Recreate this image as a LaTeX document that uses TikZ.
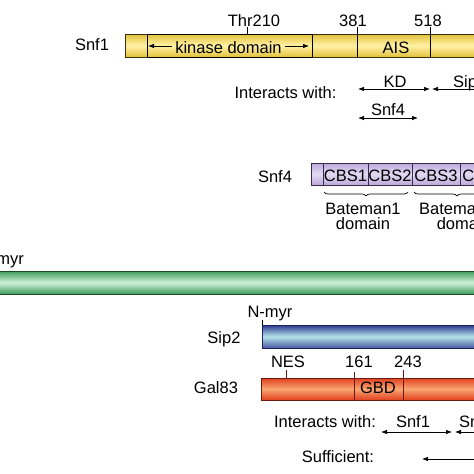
\documentclass[tikz,border=0pt]{standalone}
\usepackage{fontspec}
\setmainfont{Liberation Sans}
\usetikzlibrary{arrows.meta,decorations.pathreplacing}
\definecolor{ydark}{HTML}{E2C23A}
\definecolor{ylight}{HTML}{FFF2A6}
\definecolor{yline}{HTML}{3A3010}
\definecolor{pdark}{HTML}{BCA8DA}
\definecolor{plight}{HTML}{E2DAF2}
\definecolor{pline}{HTML}{3A2A50}
\definecolor{gdark}{HTML}{3C9C5C}
\definecolor{glight}{HTML}{D2F2D8}
\definecolor{gline}{HTML}{1E4A2C}
\definecolor{bdark}{HTML}{2E3890}
\definecolor{blight}{HTML}{B4E4EA}
\definecolor{bline}{HTML}{1C2060}
\definecolor{rdark}{HTML}{E2401E}
\definecolor{rlight}{HTML}{F8A672}
\definecolor{rline}{HTML}{6A1A0E}
\tikzset{
  lbl/.style={font=\fontsize{16.5}{18}\selectfont, inner sep=0pt, anchor=base},
  divline/.style={line width=0.7pt},
  dbl/.style={line width=0.7pt, {Latex[length=6pt,width=4.5pt]}-{Latex[length=6pt,width=4.5pt]}},
  lft/.style={line width=0.7pt, {Latex[length=6pt,width=4.5pt]}-},
  rgt/.style={line width=0.7pt, -{Latex[length=6pt,width=4.5pt]}},
  ybar/.style={draw=yline, line width=0.8pt, top color=ydark, bottom color=ydark, middle color=ylight},
  pbar/.style={draw=pline, line width=0.8pt, top color=pdark, bottom color=pdark, middle color=plight},
  gbar/.style={draw=gline, line width=1pt, top color=gdark, bottom color=gdark, middle color=glight},
  bbar/.style={draw=bline, line width=1pt, top color=bdark, bottom color=bdark!80!blight, middle color=blight},
  rbar/.style={draw=rline, line width=0.8pt, top color=rdark, bottom color=rdark, middle color=rlight},
  bracestyle/.style={decorate, decoration={brace, mirror, amplitude=4pt}, line width=0.7pt},
}
\begin{document}
\begin{tikzpicture}[x=1pt,y=-1pt]
\useasboundingbox (0,0) rectangle (474,474);
\fill[white] (0,0) rectangle (474,474);
\begin{scope}
\clip (0,0) rectangle (474,474);
% ---------- Snf1 ----------
\node[lbl] (snf1) at (92,50) {Snf1};
\fill[ybar] (125,34) rectangle (490,57);
\draw[line width=1pt] (147,34) rectangle (312,57);
\node[lbl] (kd) at (228.5,53) {kinase domain};
\coordinate (kdl) at (148,46);
\coordinate (kdr) at (309,46);
\draw[lft] (kdl) -- ([xshift=-3pt]kd.west |- kdl);
\draw[rgt] ([xshift=3pt]kd.east |- kdr) -- (kdr);
\draw[divline] (357,27) -- (357,57);
\draw[divline] (430,27) -- (430,57);
\draw[divline] (247,27) -- (247,34);
\node[lbl] (thr) at (254,26) {Thr210};
\node[lbl] (n381) at (353,26) {381};
\node[lbl] (n518) at (428,26) {518};
\node[lbl] (ais) at (396,53) {AIS};
\node[lbl] (iw1) at (285.5,98) {Interacts with:};
\coordinate (a1) at (358,89);
\coordinate (a2) at (430,89);
\coordinate (a3) at (432,89);
\coordinate (a4) at (520,89);
\draw[dbl] (a1) -- (a2);
\draw[lft] (a3) -- (a4);
\node[lbl] (kdlab) at (395,87) {KD};
\node[lbl, anchor=base west] (sip) at (453,87) {Sip2};
\coordinate (b1) at (358,118);
\coordinate (b2) at (418,118);
\draw[dbl] (b1) -- (b2);
\node[lbl] (snf4lab) at (388,115) {Snf4};
% ---------- Snf4 ----------
\node[lbl] (snf4) at (275,182) {Snf4};
\fill[pbar] (311,163) rectangle (490,185);
\foreach \x in {323,368,412,460} \draw[divline, pline] (\x,163) -- (\x,185);
\node[lbl] (cbs1) at (345.5,181) {CBS1};
\node[lbl] (cbs2) at (390,181) {CBS2};
\node[lbl] (cbs3) at (436,181) {CBS3};
\node[lbl] (cbs4) at (484,181) {CBS4};
\coordinate (br1) at (324,192);
\coordinate (br2) at (408,192);
\coordinate (br3) at (414,192);
\coordinate (br4) at (500,192);
\draw[bracestyle] (br1) -- (br2);
\draw[bracestyle] (br3) -- (br4);
\node[lbl, align=center, anchor=north] (bat1) at (363,203) {Bateman1\\[-3pt]domain};
\node[lbl, align=center, anchor=north west] (bat2) at (419,203) {Bateman2\\[-3pt]\hspace*{14pt}domain};
% ---------- green ----------
\fill[gbar] (-20,271) rectangle (494,294);
\node[lbl, anchor=base east] (gmyr) at (24,264) {N-myr};
% ---------- Sip2 ----------
\node[lbl] (nmyr) at (270,317) {N-myr};
\draw[divline] (262,320) -- (262,325);
\fill[bbar] (262,325) rectangle (494,348);
\node[lbl] (sip2) at (224,343) {Sip2};
% ---------- Gal83 ----------
\node[lbl] (gal83) at (216,393) {Gal83};
\fill[rbar] (261,378) rectangle (494,400);
\draw[divline, rline] (354,372) -- (354,400);
\draw[divline, rline] (403,370) -- (403,400);
\draw[divline, rline] (286,370) -- (286,378);
\node[lbl] (nes) at (288,367) {NES};
\node[lbl] (n161) at (359,367) {161};
\node[lbl] (n243) at (408,367) {243};
\node[lbl] (gbd) at (378,393) {GBD};
\node[lbl] (iw2) at (325,427) {Interacts with:};
\node[lbl] (snf1b) at (413,427) {Snf1};
\coordinate (c1) at (381,432);
\coordinate (c2) at (452,432);
\coordinate (c3) at (455,432);
\coordinate (c4) at (530,432);
\draw[dbl] (c1) -- (c2);
\draw[lft] (c3) -- (c4);
\node[lbl, anchor=base west] (snf4b) at (459,427) {Snf4};
\node[lbl] (suff) at (338,462) {Sufficient:};
\coordinate (d1) at (422,459);
\coordinate (d2) at (530,459);
\draw[lft] (d1) -- (d2);
\end{scope}
\end{tikzpicture}
\end{document}
